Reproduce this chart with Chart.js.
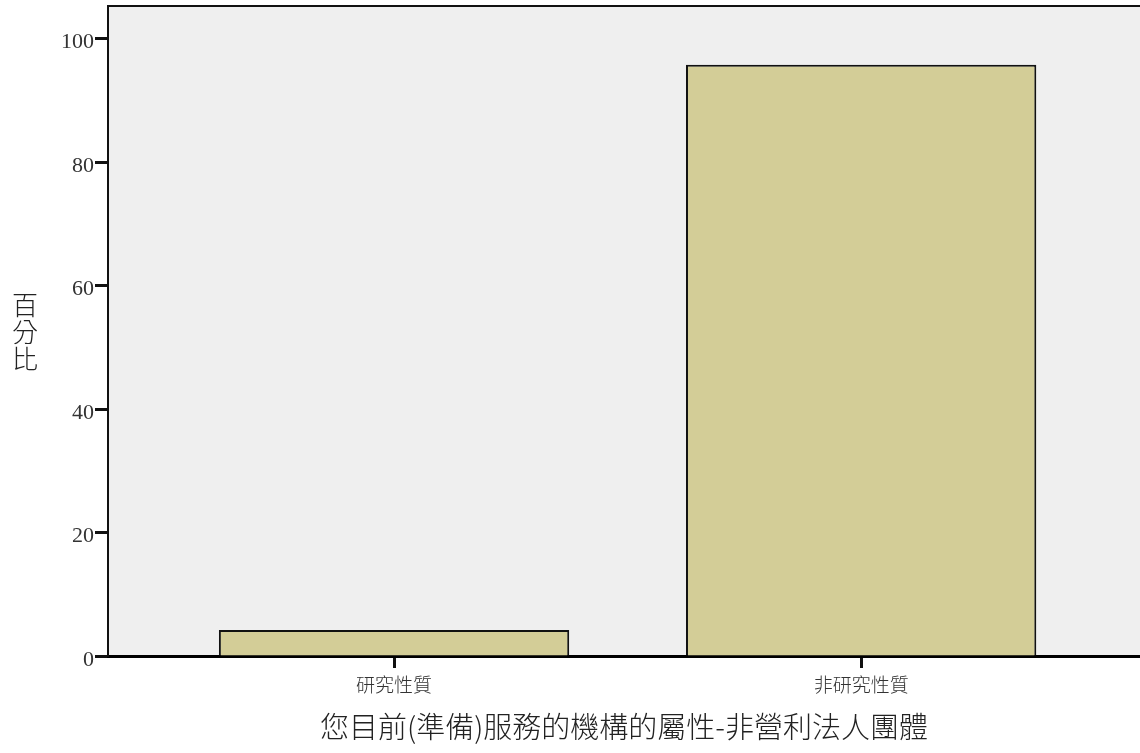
<!DOCTYPE html>
<html>
<head>
<meta charset="utf-8">
<script src="https://cdn.jsdelivr.net/npm/chart.js@4/dist/chart.umd.min.js"></script>
<style>
  html, body { margin: 0; padding: 0; background: #ffffff; }
  #wrap { width: 1140px; height: 753px; position: relative; }
</style>
</head>
<body>
<div id="wrap"><canvas id="c" width="1140" height="753"></canvas></div>
<script>
const categories = ['研究性質', '非研究性質'];
const percentValues = [4.2, 95.8];
const yTickValues = [0, 20, 40, 60, 80, 100];
const xAxisTitle = '您目前(準備)服務的機構的屬性-非營利法人團體';
const yAxisTitle = '百分比';

const plotDecor = {
  id: 'plotDecor',
  beforeDraw(chart) {
    const { ctx, chartArea: a } = chart;
    ctx.save();
    ctx.fillStyle = '#efefef';
    ctx.fillRect(a.left, a.top, a.right - a.left, a.bottom - a.top);
    ctx.restore();
  },
  afterDraw(chart) {
    const { ctx, chartArea: a } = chart;
    ctx.save();
    ctx.strokeStyle = '#111';
    ctx.lineWidth = 2;
    ctx.beginPath();
    ctx.moveTo(a.left, a.top);
    ctx.lineTo(a.right, a.top);
    ctx.stroke();
    // vertical y-axis title, stacked characters
    ctx.fillStyle = '#222';
    ctx.font = '300 26px "Noto Sans CJK TC"';
    ctx.textAlign = 'center';
    ctx.textBaseline = 'middle';
    const chars = Array.from(yAxisTitle);
    const lh = 27;
    const cy = 332;
    chars.forEach((ch, i) => {
      ctx.fillText(ch, 25, cy + (i - (chars.length - 1) / 2) * lh);
    });
    ctx.restore();
  }
};

new Chart(document.getElementById('c'), {
  type: 'bar',
  data: {
    datasets: [{
      data: categories.map((c, i) => ({ x: i, y: percentValues[i] })),
      backgroundColor: '#d3cd97',
      borderColor: '#111',
      borderWidth: 2,
      barPercentage: 0.75,
      categoryPercentage: 1.0
    }]
  },
  options: {
    responsive: false,
    animation: false,
    devicePixelRatio: 1,
    layout: { padding: { top: 6, right: 0, left: 0, bottom: 0 } },
    plugins: { legend: { display: false }, tooltip: { enabled: false } },
    scales: {
      x: {
        type: 'linear',
        offset: false,
        min: -0.6124,
        max: 1.597,
        afterBuildTicks(axis) { axis.ticks = categories.map((c, i) => ({ value: i })); },
        afterFit(axis) { axis.height = 97; axis.paddingLeft = 0; axis.paddingRight = 0; },
        ticks: {
          callback: (v) => categories[v],
          font: { family: '"Noto Sans CJK TC"', size: 19, weight: 300 },
          color: '#333',
          padding: 5,
          maxRotation: 0,
          autoSkip: false
        },
        grid: { offset: false, drawOnChartArea: false, tickLength: 12, tickWidth: 3, tickColor: '#111' },
        border: { display: true, color: '#000', width: 3 },
        title: {
          display: true,
          text: xAxisTitle,
          font: { family: '"Noto Sans CJK TC"', size: 29, weight: 300 },
          color: '#222',
          padding: { top: 0, bottom: 9 }
        }
      },
      y: {
        min: 0,
        max: 105.3,
        afterBuildTicks(axis) { axis.ticks = yTickValues.map(v => ({ value: v })); },
        afterFit(axis) { axis.width = 108; axis.paddingTop = 0; axis.paddingBottom = 0; },
        ticks: {
          font: { family: '"Liberation Serif"', size: 22 },
          color: '#333',
          padding: 1,
          labelOffset: 4
        },
        grid: { drawOnChartArea: false, tickLength: 13, tickWidth: 3, tickColor: '#111' },
        border: { display: true, color: '#111', width: 2 }
      }
    }
  },
  plugins: [plotDecor]
});
</script>
</body>
</html>
